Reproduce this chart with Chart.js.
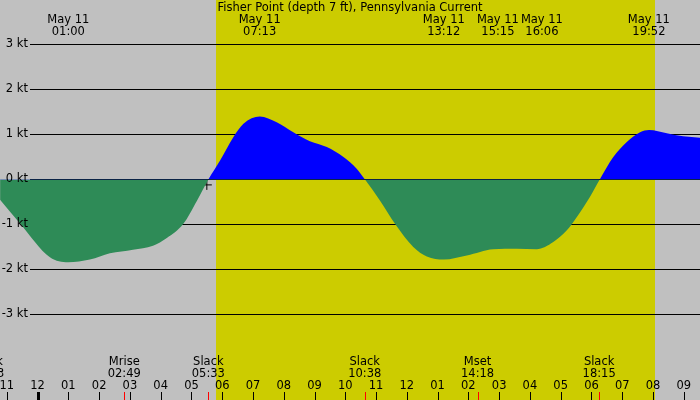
<!DOCTYPE html>
<html><head><meta charset="utf-8">
<script src="https://cdn.jsdelivr.net/npm/chart.js@4.4.1/dist/chart.umd.min.js"></script>
<style>html,body{margin:0;padding:0;background:#c0c0c0;overflow:hidden}#wrap{width:700px;height:400px}</style>
</head><body><div id="wrap"><canvas id="c" width="700" height="400"></canvas></div>
<script>
// ---- data ----
const chartTitle = 'Fisher Point (depth 7 ft), Pennsylvania Current';
// hours after midnight, May 11
const hours = [-1.22,-0.57,0.40,0.99,1.70,2.35,3.10,3.75,4.20,4.73,5.18,5.55,5.93,6.36,6.69,7.22,7.77,8.31,8.85,9.40,9.94,10.37,10.64,11.13,11.62,12.21,12.65,13.20,13.95,14.81,15.57,16.22,16.76,17.20,17.52,17.95,18.27,18.71,19.14,19.58,19.87,20.45,20.98,21.53];
const speed = [-0.45,-0.98,-1.73,-1.84,-1.78,-1.64,-1.56,-1.47,-1.30,-0.99,-0.47,0,0.42,0.94,1.24,1.40,1.27,1.05,0.85,0.72,0.50,0.24,0,-0.47,-0.99,-1.50,-1.71,-1.78,-1.69,-1.55,-1.54,-1.55,-1.39,-1.13,-0.84,-0.39,0,0.50,0.83,1.05,1.10,1.03,0.96,0.93];
const yTicks = [3,2,1,0,-1,-2,-3];
const yTickLabels = ['3 kt','2 kt','1 kt','0 kt','-1 kt','-2 kt','-3 kt'];
const hourTicks = [-1,0,1,2,3,4,5,6,7,8,9,10,11,12,13,14,15,16,17,18,19,20,21];
const hourLabels = ['11','12','01','02','03','04','05','06','07','08','09','10','11','12','01','02','03','04','05','06','07','08','09'];
const topTimes = [1.0,7.217,13.2,15.25,16.1,19.867];
const topDates = ['May 11','May 11','May 11','May 11','May 11','May 11'];
const topLabels = ['01:00','07:13','13:12','15:15','16:06','19:52'];
const bottomTimes = [-1.62,2.817,5.55,10.633,14.3,18.25];
const bottomNames = ['Slack','Mrise','Slack','Slack','Mset','Slack'];
const bottomLabels = ['22:23','02:49','05:33','10:38','14:18','18:15'];
const daylight = [5.8,20.07];
const markerX = [5.5];
const markerY = [-0.12];

// ---- drawing ----
const FONT = '11.5px "DejaVu Sans", sans-serif';
const GRAY = '#c0c0c0', YELLOW = '#cccc00', BLUE = '#0000ff', GREEN = '#2e8b57';

const deco = {
  id: 'deco',
  beforeDraw(chart) {
    const ctx = chart.ctx, xs = chart.scales.x, ys = chart.scales.y;
    ctx.save();
    ctx.fillStyle = GRAY;
    ctx.fillRect(0, 0, chart.width, chart.height);
    const x0 = xs.getPixelForValue(daylight[0]), x1 = xs.getPixelForValue(daylight[1]);
    ctx.fillStyle = YELLOW;
    ctx.fillRect(Math.round(x0), 0, Math.round(x1) - Math.round(x0), chart.height);
    // grid lines
    ctx.strokeStyle = '#000'; ctx.lineWidth = 1;
    yTicks.forEach(v => {
      const y = Math.floor(ys.getPixelForValue(v)) + 0.5;
      ctx.beginPath(); ctx.moveTo(30, y); ctx.lineTo(chart.width, y); ctx.stroke();
    });
    ctx.restore();
  },
  afterDatasetsDraw(chart) {
    const ctx = chart.ctx, xs = chart.scales.x, ys = chart.scales.y;
    ctx.save();
    ctx.fillStyle = '#000';
    ctx.font = FONT;
    ctx.textBaseline = 'middle';
    // y labels
    ctx.textAlign = 'right';
    yTicks.forEach((v, i) => ctx.fillText(yTickLabels[i], 28, ys.getPixelForValue(v)));
    ctx.textAlign = 'center';
    // title
    ctx.fillText(chartTitle, chart.width / 2, 8);
    // top labels with overlap avoidance
    const pos = topTimes.map(t => xs.getPixelForValue(t));
    const minGap = 44;
    for (let i = 1; i < pos.length; i++) {
      const d = pos[i] - pos[i - 1];
      if (d < minGap) { const s = (minGap - d) / 2; pos[i - 1] -= s; pos[i] += s; }
    }
    pos.forEach((p, i) => {
      ctx.fillText(topDates[i], p, 20);
      ctx.fillText(topLabels[i], p, 32);
    });
    // bottom event labels
    bottomTimes.forEach((t, i) => {
      const p = xs.getPixelForValue(t);
      ctx.fillText(bottomNames[i], p, 362);
      ctx.fillText(bottomLabels[i], p, 374);
      ctx.fillStyle = '#ff0000';
      ctx.fillRect(Math.round(p), 392, 1, 8);
      ctx.fillStyle = '#000';
    });
    // hour labels & ticks
    hourTicks.forEach((h, i) => {
      const p = xs.getPixelForValue(h);
      ctx.fillText(hourLabels[i], p, 386);
      if (h % 24 === 0) ctx.fillRect(Math.round(p) - 1, 392, 3, 8);
      else ctx.fillRect(Math.round(p), 392, 1, 8);
    });
    ctx.restore();
  }
};

new Chart(document.getElementById('c'), {
  type: 'line',
  data: {
    datasets: [
      {
        data: hours.map((h, i) => ({ x: h, y: speed[i] })),
        borderWidth: 0,
        borderColor: 'rgba(0,0,0,0)',
        pointRadius: 0,
        cubicInterpolationMode: 'monotone',
        fill: { target: 'origin', above: BLUE, below: GREEN }
      },
      {
        data: markerX.map((h, i) => ({ x: h, y: markerY[i] })),
        showLine: false,
        pointStyle: 'cross',
        pointRadius: 5,
        borderColor: '#000',
        borderWidth: 1,
        fill: false
      }
    ]
  },
  plugins: [deco],
  options: {
    responsive: false,
    animation: false,
    devicePixelRatio: 1,
    layout: { padding: 0, autoPadding: false },
    plugins: { legend: { display: false }, title: { display: false }, tooltip: { enabled: false } },
    scales: {
      x: { type: 'linear', display: false, min: -1.222, max: 21.528 },
      y: { type: 'linear', display: false, min: -220.5 / 45, max: 179.5 / 45 }
    }
  }
});
</script>
</body></html>
